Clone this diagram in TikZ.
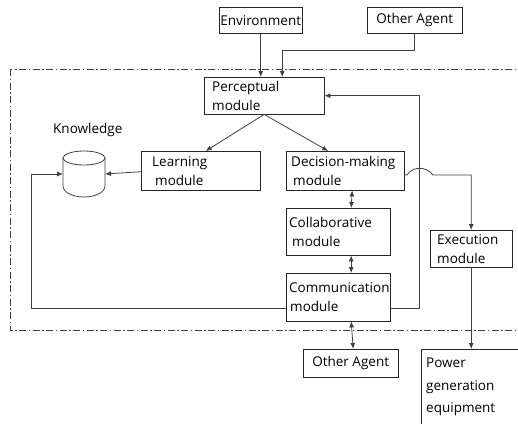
\documentclass[tikz,border=0pt]{standalone}
\usepackage{fontspec}
\setmainfont{Open Sans}
\usetikzlibrary{arrows.meta}
\tikzset{
    modbox/.style={draw=black!85, inner xsep=5pt, inner ysep=0pt, anchor=north west,
        align=left, text width=#1, font=\fontsize{13.5}{19}\selectfont},
    srcbox/.style={draw=black!85, inner sep=0pt, anchor=north west, align=center,
        font=\fontsize{13.5}{19}\selectfont},
    conn/.style={draw=black!75, line width=0.8pt},
    frame/.style={draw=black!75, line width=0.8pt, dash pattern=on 7pt off 2.5pt on 1.5pt off 2.5pt}
}
\begin{document}
\begin{tikzpicture}[x=1pt, y=-1pt, >={Latex[length=6pt,width=5pt]}]
    \useasboundingbox (0,0) rectangle (518,423);
    % outer frame of the agent
    \draw[frame] (10,69) rectangle (540,330);
    % boxes outside
    \node[srcbox, minimum width=83pt, minimum height=26pt] (env) at (219,7) {Environment};
    \node[srcbox, minimum width=95pt, minimum height=26pt] (oa1) at (367,7) {Other Agent};
    \node[srcbox, minimum width=95pt, minimum height=28pt] (oa2) at (303,349) {Other Agent};
    \node[modbox=100pt, inner ysep=9pt, font=\fontsize{13.5}{22.5}\selectfont] (pow) at (421,349)
        {Power\\generation\\equipment\\\mbox{}};
    % modules
    \node[modbox=110pt, minimum height=37pt] (per) at (204,77) {\hspace*{3pt}Perceptual\\\hspace*{3pt}module};
    \node[modbox=109pt, minimum height=39pt] (lrn) at (141,151) {\hspace*{6pt}Learning\\\hspace*{9pt}module};
    \node[modbox=108pt, minimum height=39pt] (dec) at (286,151) {Decision-making\\\hspace*{2pt}module};
    \node[modbox=98pt, minimum height=47pt, inner xsep=3pt] (col) at (286,208) {Collaborative\\\hspace*{3pt}module};
    \node[modbox=98pt, minimum height=48pt, inner xsep=3pt] (com) at (286,273) {Communication\\\hspace*{1pt}module};
    \node[modbox=72pt, minimum height=37pt] (exe) at (430,230) {\hspace*{2pt}Execution\\\hspace*{2pt}module};
    % knowledge base
    \node[font=\fontsize{13.5}{19}\selectfont, anchor=west, inner sep=0pt] (knl) at (53,130) {Knowledge};
    \draw[conn] (84,158) ellipse[x radius=21, y radius=7];
    \draw[conn] (63,158) -- (63,186) arc[start angle=180, end angle=0, x radius=21, y radius=11] -- (105,158);
    \coordinate (kbL) at (63,174);
    \coordinate (kbR) at (105,174);
    % connectors
    \draw[conn,->] (env.south) -- (env.south |- per.north);
    \draw[conn,->] (oa1.south) -- ++(0,17) -| ([xshift=18pt]per.north);
    \draw[conn,->] (per.south) -- ([xshift=5pt]lrn.north);
    \draw[conn,->] (per.south) -- ([xshift=-17pt]dec.north);
    \draw[conn,->] ([yshift=-1pt]lrn.west) -- (kbR);
    \draw[conn,->] ([yshift=-11pt]com.west) -| (31,174) -- (kbL);
    \draw[conn,->] ([yshift=-11pt]com.east) -| ([xshift=95pt]per.east) -- (per.east);
    \draw[conn,->] ([yshift=-4pt]dec.east) -- (407,175) .. controls (413,166) and (426,166) .. (433,175) -| (exe.north);
    \draw[conn,<->] ([xshift=7pt]dec.south) -- ([xshift=13pt]col.north);
    \draw[conn,<->] ([xshift=13pt]col.south) -- ([xshift=13pt]com.north);
    \draw[conn,<->] ([xshift=13pt]com.south) -- ([xshift=2.5pt]oa2.north);
    \draw[conn,->] (exe.south) -- (exe.south |- pow.north);
\end{tikzpicture}
\end{document}
